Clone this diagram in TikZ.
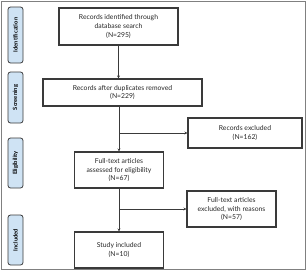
\documentclass[tikz,border=0pt]{standalone}
\usepackage{fontspec}
\setmainfont{Lato}
\usetikzlibrary{arrows.meta,positioning}

\definecolor{stagefill}{HTML}{CFE3F4}
\definecolor{linegray}{HTML}{3A3A3A}

\begin{document}
\begin{tikzpicture}[
    x=1pt, y=-1pt,
    font=\fontsize{6.8}{8.8}\selectfont,
    box/.style={draw=linegray, line width=1.1pt, align=center, inner sep=1pt, text=black!85},
    stage/.style={draw=linegray, line width=0.8pt, fill=stagefill, rounded corners=2.5pt,
      rotate=90, minimum height=15pt, inner sep=0pt, font=\fontsize{5.8}{6}\selectfont\bfseries, text=black},
    arr/.style={-{Stealth[length=3pt, width=3pt]}, line width=0.6pt, draw=linegray}]
  \useasboundingbox (0,0) rectangle (307,271);
  \draw[gray, line width=1pt] (1,1) rectangle (305.5,269.5);
  % stage labels
  \node[stage, minimum width=56pt] (ident) at (15.5,35) {Identification};
  \node[stage, minimum width=51pt] (screen) at (15.5,97.5) {Screening};
  \node[stage, minimum width=50pt] (elig) at (15.5,163) {Eligibility};
  \node[stage, minimum width=50pt] (incl) at (15.5,240) {Included};
  % flow boxes
  \node[box, minimum width=119pt, minimum height=37pt] (found) at (118.5,26.5) {Records identified through\\database search\\(N=295)};
  \node[box, minimum width=159pt, minimum height=27pt] (dedup) at (122.5,92.5) {Records after duplicates removed\\(N=229)};
  \node[box, minimum width=114pt, minimum height=30pt] (excl) at (245,133) {Records excluded\\(N=162)};
  \node[box, minimum width=89pt, minimum height=36pt] (full) at (119,170) {Full-text articles\\assessed for eligibility\\(N=67)};
  \node[box, minimum width=89pt, minimum height=36pt] (fullx) at (231.5,209) {Full-text articles\\excluded, with reasons\\(N=57)};
  \node[box, minimum width=89pt, minimum height=36pt] (incd) at (119,250) {Study included\\(N=10)};
  \coordinate (j1) at (full |- excl.west);
  \coordinate (j2) at (full |- fullx.west);
  \draw[arr] (found) -- (dedup.north -| found);
  \draw[arr] (dedup.south -| full) -- (full);
  \draw[arr] (j1) -- (excl);
  \draw[arr] (full) -- (incd);
  \draw[arr] (j2) -- (fullx);
\end{tikzpicture}
\end{document}
